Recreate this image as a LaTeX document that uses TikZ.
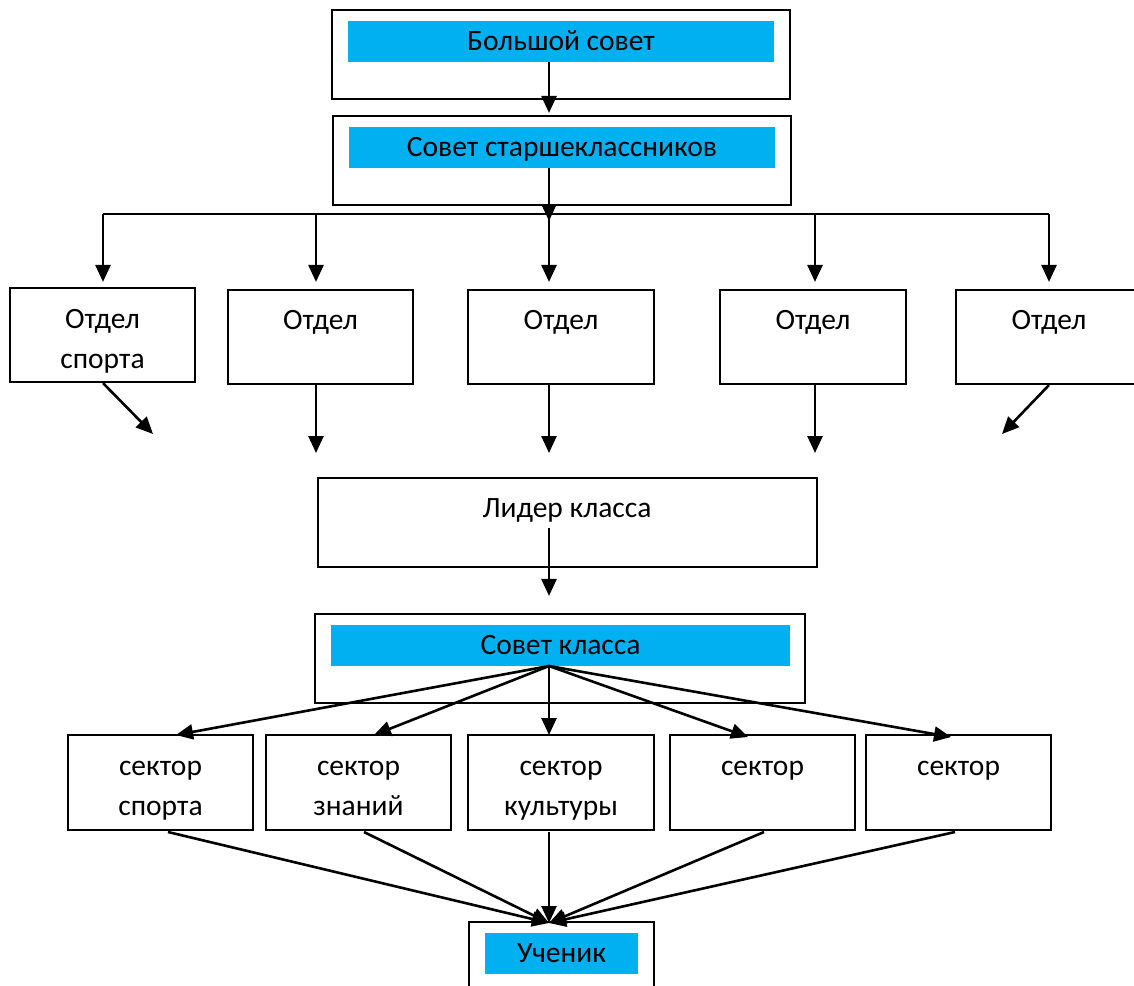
\documentclass[tikz,border=0pt]{standalone}
\usepackage{fontspec}
\setmainfont{Carlito}
\usetikzlibrary{arrows.meta}
\definecolor{barblue}{HTML}{00B0F0}
\newcommand\dgfont{\fontsize{29.5}{40}\selectfont}
\begin{document}
\begin{tikzpicture}[x=1pt,y=-1pt,
  box/.style={draw, line width=2.1pt, inner sep=0pt},
  bar/.style={fill=barblue, inner sep=0pt, font=\dgfont, text height=22pt, text depth=4pt},
  txt/.style={inner sep=0pt, font=\dgfont, anchor=base},
  arr/.style={line width=2.6pt, -{Triangle[length=17pt,width=15pt]}},
  ln/.style={line width=2.6pt}]
\useasboundingbox (0,0) rectangle (1134,985);
% top
\node[box, minimum width=458pt, minimum height=89pt] (top) at (561,54.5) {};
\node[bar, minimum width=426pt, minimum height=41pt] (topbar) at (561,41.5) {Большой совет};
\node[box, minimum width=458pt, minimum height=89pt] (sen) at (562,160.5) {};
\node[bar, minimum width=426pt, minimum height=41pt] (senbar) at (562,147.5) {Совет старшеклассников};
% departments
\node[box, minimum width=185pt, minimum height=94pt] (o1) at (102.5,335) {};
\node[box, minimum width=185pt, minimum height=94pt] (o2) at (320.5,337) {};
\node[box, minimum width=186pt, minimum height=94pt] (o3) at (561,337) {};
\node[box, minimum width=186pt, minimum height=94pt] (o4) at (813,337) {};
\node[box, minimum width=184pt, minimum height=94pt] (o5) at (1048,337) {};
\node[txt] (o1a) at (102.5,328) {Отдел};
\node[txt] (o1b) at (102.5,368) {спорта};
\node[txt] (o2a) at (320.5,329) {Отдел};
\node[txt] (o3a) at (561,329) {Отдел};
\node[txt] (o4a) at (813,329) {Отдел};
\node[txt] (o5a) at (1049,329) {Отдел};
% leader
\node[box, minimum width=499pt, minimum height=89pt] (lead) at (567.5,522.5) {};
\node[txt] (leadt) at (567,517) {Лидер класса};
% class council
\node[box, minimum width=490pt, minimum height=89pt] (cc) at (560,658.5) {};
\node[bar, minimum width=459pt, minimum height=41pt] (ccbar) at (560.5,645.5) {Совет класса};
% sectors
\node[box, minimum width=185pt, minimum height=95pt] (s1) at (160.5,782.5) {};
\node[box, minimum width=185pt, minimum height=95pt] (s2) at (358.5,782.5) {};
\node[box, minimum width=186pt, minimum height=95pt] (s3) at (561,782.5) {};
\node[box, minimum width=185pt, minimum height=95pt] (s4) at (762.5,782.5) {};
\node[box, minimum width=185pt, minimum height=95pt] (s5) at (958.5,782.5) {};
\node[txt] (s1a) at (160.5,775) {сектор};
\node[txt] (s1b) at (160.5,815) {спорта};
\node[txt] (s2a) at (358.5,775) {сектор};
\node[txt] (s2b) at (358.5,815) {знаний};
\node[txt] (s3a) at (561,775) {сектор};
\node[txt] (s3b) at (561,815) {культуры};
\node[txt] (s4a) at (762.5,775) {сектор};
\node[txt] (s5a) at (958.5,775) {сектор};
% pupil
\node[box, minimum width=185pt, minimum height=68pt] (pup) at (561.5,956) {};
\node[bar, minimum width=153pt, minimum height=41pt] (pupbar) at (561.5,953.5) {Ученик};

% coordinates
\coordinate (sp) at (549,0);
\coordinate (h1) at (103,214);
\coordinate (h2) at (316,214);
\coordinate (h3) at (549,214);
\coordinate (h4) at (815,214);
\coordinate (h5) at (1049,214);
\coordinate (htip) at (549,221);
\coordinate (e1) at (153,434);
\coordinate (e2) at (316,453);
\coordinate (e3) at (549,453);
\coordinate (e4) at (815,453);
\coordinate (e5) at (1002,434);
\coordinate (fan) at (549,666);
\coordinate (t1) at (176,735);
\coordinate (t2) at (374,735);
\coordinate (t3) at (549,735);
\coordinate (t4) at (748,737);
\coordinate (t5) at (951,737);
\coordinate (b1) at (168,832);
\coordinate (b2) at (364,832);
\coordinate (b3) at (549,832);
\coordinate (b4) at (764,832);
\coordinate (b5) at (955,832);
\coordinate (ut) at (549,923);

% connectors
\draw[arr, shorten >=2pt] (topbar.south -| sp) -- (sen.north -| sp);
\draw[arr] (senbar.south -| sp) -- (htip);
\draw[ln] (h1) -- (h5);
\draw[arr, shorten >=5pt] (h1) -- (h1 |- o1.north);
\draw[arr, shorten >=7pt] (h2) -- (h2 |- o2.north);
\draw[arr, shorten >=7pt] (h3) -- (h3 |- o3.north);
\draw[arr, shorten >=7pt] (h4) -- (h4 |- o4.north);
\draw[arr, shorten >=7pt] (h5) -- (h5 |- o5.north);
\draw[arr] (o1.south -| h1) -- (e1);
\draw[arr] (o2.south -| e2) -- (e2);
\draw[arr] (o3.south -| e3) -- (e3);
\draw[arr] (o4.south -| e4) -- (e4);
\draw[arr] (o5.south -| h5) -- (e5);
\draw[arr, shorten >=17pt] (lead.center -| sp) ++(0,5.5) -- (cc.north -| sp);
\foreach \i in {1,...,5} {
  \draw[arr] (fan) -- (t\i);
  \draw[arr] (b\i) -- (ut);
}
\end{tikzpicture}
\end{document}
